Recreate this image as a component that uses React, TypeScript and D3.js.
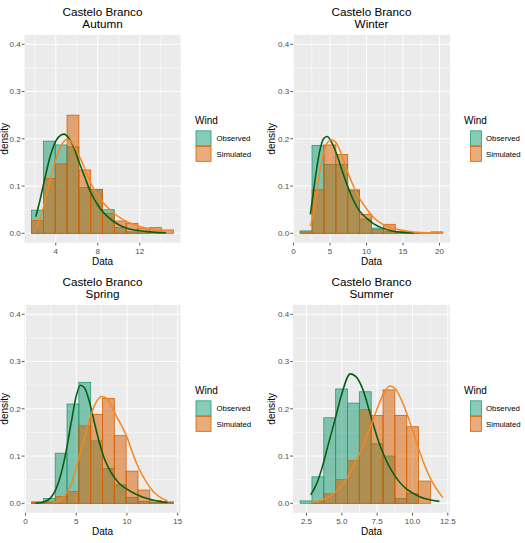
import React from 'react';
import * as d3 from 'd3';

// ---- data ----
const seasons = ['Autumn', 'Winter', 'Spring', 'Summer'];
const seriesNames = ['Observed', 'Simulated'];
const yTicks = [0, 0.1, 0.2, 0.3, 0.4];

const autumnEdges = [1.7, 2.825, 3.95, 5.075, 6.2, 7.325, 8.45, 9.575, 10.7, 11.825, 12.95, 14.075, 15.2];
const autumnObs = [0.049, 0.195, 0.187, 0.183, 0.097, 0.093, 0.05, 0.012, 0.003, 0.001, 0, 0];
const autumnSim = [0.027, 0.116, 0.147, 0.25, 0.134, 0.093, 0.042, 0.026, 0.021, 0.011, 0.012, 0.007];
const autumnObsCurve: [number, number][] = [
  [2.1, 0.035], [2.5, 0.07], [3.0, 0.12], [3.5, 0.165], [4.0, 0.195], [4.5, 0.208], [4.8, 0.21],
  [5.2, 0.203], [5.7, 0.183], [6.2, 0.152], [6.8, 0.117], [7.3, 0.088], [8.0, 0.06], [8.5, 0.045],
  [9.5, 0.025], [10.5, 0.013], [11.5, 0.007], [12.5, 0.004], [13.5, 0.002], [14.5, 0.001],
];
const autumnSimCurve: [number, number][] = [
  [2.1, 0.01], [2.5, 0.03], [3.0, 0.07], [3.5, 0.115], [4.0, 0.155], [4.5, 0.185], [5.1, 0.199],
  [5.6, 0.19], [6.2, 0.165], [6.8, 0.135], [7.3, 0.108], [8.0, 0.08], [8.5, 0.065], [9.5, 0.043],
  [10.5, 0.028], [11.5, 0.018], [12.5, 0.011], [13.5, 0.007], [14.4, 0.004],
];
const autumnTicks = [4, 8, 12];

const winterEdges = [0.9, 2.53, 4.16, 5.79, 7.42, 9.05, 10.68, 12.31, 13.94, 15.57, 17.2, 18.83, 20.46];
const winterObs = [0.005, 0.186, 0.146, 0.146, 0.09, 0.03, 0.011, 0.004, 0.002, 0.001, 0, 0];
const winterSim = [0.003, 0.092, 0.187, 0.167, 0.092, 0.04, 0.008, 0.019, 0.003, 0.002, 0.001, 0.003];
const winterObsCurve: [number, number][] = [
  [2.3, 0.04], [2.7, 0.085], [3.1, 0.13], [3.6, 0.175], [4.1, 0.2], [4.6, 0.205], [5.2, 0.193],
  [5.9, 0.168], [6.6, 0.135], [7.4, 0.1], [8.2, 0.07], [9.0, 0.048], [10.0, 0.032], [11.0, 0.02],
  [12.0, 0.012], [13.5, 0.005], [15.0, 0.002], [16.5, 0.001],
];
const winterSimCurve: [number, number][] = [
  [2.3, 0.015], [2.7, 0.04], [3.2, 0.09], [3.7, 0.14], [4.2, 0.175], [4.7, 0.193], [5.2, 0.198],
  [5.9, 0.19], [6.6, 0.165], [7.4, 0.13], [8.2, 0.1], [9.0, 0.075], [10.0, 0.052], [11.0, 0.033],
  [12.0, 0.021], [13.0, 0.014], [14.0, 0.009], [15.5, 0.005], [17.0, 0.002], [18.5, 0.001], [20.4, 0.0005],
];
const winterTicks = [0, 5, 10, 15, 20];

const springEdges = [0.6, 1.765, 2.93, 4.095, 5.26, 6.425, 7.59, 8.755, 9.92, 11.085, 12.25, 13.415, 14.58];
const springObs = [0.003, 0.01, 0.106, 0.21, 0.256, 0.132, 0.074, 0.039, 0.012, 0.004, 0.002, 0.002];
const springSim = [0.002, 0.003, 0.014, 0.025, 0.164, 0.188, 0.222, 0.143, 0.068, 0.028, 0.006, 0.003];
const springObsCurve: [number, number][] = [
  [1.0, 0.0], [1.8, 0.003], [2.5, 0.012], [3.0, 0.03], [3.5, 0.062], [4.0, 0.11], [4.5, 0.17],
  [5.0, 0.227], [5.4, 0.25], [5.8, 0.245], [6.3, 0.215], [6.8, 0.17], [7.3, 0.127], [7.8, 0.093],
  [8.5, 0.063], [9.2, 0.043], [10.0, 0.03], [11.0, 0.018], [12.0, 0.01], [13.0, 0.005], [14.0, 0.002],
];
const springSimCurve: [number, number][] = [
  [2.7, 0.001], [3.5, 0.008], [4.0, 0.02], [4.5, 0.04], [5.0, 0.075], [5.5, 0.115], [6.0, 0.155],
  [6.5, 0.19], [7.0, 0.215], [7.5, 0.226], [8.0, 0.222], [8.5, 0.205], [9.0, 0.183], [9.5, 0.163],
  [10.0, 0.14], [10.5, 0.11], [11.0, 0.082], [11.5, 0.06], [12.0, 0.042], [12.5, 0.027], [13.0, 0.017],
  [13.5, 0.01], [14.0, 0.005],
];
const springTicks = [0, 5, 10, 15];

const summerEdges = [2.05, 2.888, 3.726, 4.564, 5.402, 6.24, 7.078, 7.916, 8.754, 9.592, 10.43, 11.268];
const summerObs = [0.005, 0.056, 0.181, 0.242, 0.212, 0.236, 0.126, 0.1, 0.01, 0.021, 0];
const summerSim = [0, 0.004, 0.02, 0.05, 0.09, 0.198, 0.186, 0.24, 0.186, 0.162, 0.047];
const summerObsCurve: [number, number][] = [
  [2.8, 0.018], [3.2, 0.04], [3.6, 0.075], [4.0, 0.12], [4.5, 0.175], [5.0, 0.232], [5.6, 0.274],
  [6.0, 0.268], [6.5, 0.24], [7.0, 0.19], [7.5, 0.14], [8.0, 0.1], [8.5, 0.07], [9.0, 0.048],
  [9.5, 0.032], [10.0, 0.022], [10.5, 0.014], [11.0, 0.009], [11.9, 0.004],
];
const summerSimCurve: [number, number][] = [
  [2.8, 0.002], [3.5, 0.006], [4.0, 0.012], [4.5, 0.022], [5.0, 0.038], [5.5, 0.06], [6.0, 0.088],
  [6.5, 0.122], [7.0, 0.16], [7.5, 0.2], [8.0, 0.235], [8.4, 0.248], [8.8, 0.242], [9.2, 0.22],
  [9.6, 0.19], [10.0, 0.155], [10.5, 0.11], [11.0, 0.07], [11.5, 0.04], [12.15, 0.012],
];
const summerTicks = [2.5, 5, 7.5, 10, 12.5];

const panels = [
  { season: seasons[0], edges: autumnEdges, obs: autumnObs, sim: autumnSim, obsCurve: autumnObsCurve, simCurve: autumnSimCurve, ticks: autumnTicks, fmt: d3.format('d') },
  { season: seasons[1], edges: winterEdges, obs: winterObs, sim: winterSim, obsCurve: winterObsCurve, simCurve: winterSimCurve, ticks: winterTicks, fmt: d3.format('d') },
  { season: seasons[2], edges: springEdges, obs: springObs, sim: springSim, obsCurve: springObsCurve, simCurve: springSimCurve, ticks: springTicks, fmt: d3.format('d') },
  { season: seasons[3], edges: summerEdges, obs: summerObs, sim: summerSim, obsCurve: summerObsCurve, simCurve: summerSimCurve, ticks: summerTicks, fmt: d3.format('.1f') },
];

// ---- layout ----
const W = 525, H = 543;
const cols = [
  { left: 24.5, right: 180.5, legX: 196, keyW: 15, keyX: 196, labX: 216.5, yLabX: 4.8 },
  { left: 293, right: 450, legX: 465, keyW: 11, keyX: 470.5, labX: 486, yLabX: 271.7 },
];
const rows = [{ top: 34.85, bottom: 242.75 }, { top: 304.85, bottom: 512.75 }];

const FONT = "'Liberation Sans', Arial, Helvetica, sans-serif";
const OBS_FILL = 'rgba(27,158,119,0.52)';
const SIM_FILL = 'rgba(217,95,2,0.52)';
const OBS_STROKE = '#1B9E77';
const SIM_STROKE = '#D95F02';
const OBS_LINE = '#0B5E14';
const SIM_LINE = '#F5871F';

function Panel({ p, col, row }: { p: typeof panels[0]; col: typeof cols[0]; row: typeof rows[0] }) {
  const allX = [...p.edges, ...p.obsCurve.map(d => d[0]), ...p.simCurve.map(d => d[0])];
  const [lo, hi] = d3.extent(allX) as [number, number];
  const pad = (hi - lo) * 0.05;
  const x = d3.scaleLinear().domain([lo - pad, hi + pad]).range([col.left, col.right]);
  const y = d3.scaleLinear().domain([-0.02, 0.42]).range([row.bottom, row.top]);

  const step = p.ticks[1] - p.ticks[0];
  const minorX = [p.ticks[0] - step / 2, ...p.ticks.map(t => t + step / 2)];
  const minorY = yTicks.slice(0, -1).map((t, i) => (t + yTicks[i + 1]) / 2);
  const [dx0, dx1] = x.domain();

  const line = d3.line<[number, number]>().x(d => x(d[0])).y(d => y(d[1])).curve(d3.curveMonotoneX);
  const bins = (vals: number[]) => vals.map((v, i) => ({ x0: p.edges[i], x1: p.edges[i + 1], v }));
  const cx = (col.left + col.right) / 2;
  const cy = (row.top + row.bottom) / 2;

  return (
    <g>
      <rect x={col.left} y={row.top} width={col.right - col.left} height={row.bottom - row.top} fill="#EBEBEB" />
      {minorX.filter(v => v > dx0 && v < dx1).map(v => (
        <line key={'mx' + v} x1={x(v)} x2={x(v)} y1={row.top} y2={row.bottom} stroke="#fff" strokeWidth={0.5} />
      ))}
      {minorY.map(v => (
        <line key={'my' + v} x1={col.left} x2={col.right} y1={y(v)} y2={y(v)} stroke="#fff" strokeWidth={0.5} />
      ))}
      {p.ticks.map(v => (
        <line key={'gx' + v} x1={x(v)} x2={x(v)} y1={row.top} y2={row.bottom} stroke="#fff" strokeWidth={1} />
      ))}
      {yTicks.map(v => (
        <line key={'gy' + v} x1={col.left} x2={col.right} y1={y(v)} y2={y(v)} stroke="#fff" strokeWidth={1} />
      ))}

      {bins(p.obs).map((b, i) => (
        <rect key={'o' + i} x={x(b.x0)} y={y(b.v)} width={x(b.x1) - x(b.x0)} height={y(0) - y(b.v)}
          fill={OBS_FILL} stroke={OBS_STROKE} strokeWidth={0.8} />
      ))}
      {bins(p.sim).map((b, i) => (
        <rect key={'s' + i} x={x(b.x0)} y={y(b.v)} width={x(b.x1) - x(b.x0)} height={y(0) - y(b.v)}
          fill={SIM_FILL} stroke={SIM_STROKE} strokeWidth={0.8} />
      ))}
      <path d={line(p.obsCurve) ?? ''} fill="none" stroke={OBS_LINE} strokeWidth={1.6} />
      <path d={line(p.simCurve) ?? ''} fill="none" stroke={SIM_LINE} strokeWidth={1.5} />

      {yTicks.map(v => (
        <g key={'ty' + v}>
          <line x1={col.left - 2.8} x2={col.left} y1={y(v)} y2={y(v)} stroke="#333" strokeWidth={0.8} />
          <text x={col.left - 3.8} y={y(v)} dy="0.35em" textAnchor="end" fontSize={8} fill="#4D4D4D">{d3.format('.1f')(v)}</text>
        </g>
      ))}
      {p.ticks.map(v => (
        <g key={'tx' + v}>
          <line x1={x(v)} x2={x(v)} y1={row.bottom} y2={row.bottom + 2.8} stroke="#333" strokeWidth={0.8} />
          <text x={x(v)} y={row.bottom + 11} textAnchor="middle" fontSize={8} fill="#4D4D4D">{p.fmt(v)}</text>
        </g>
      ))}

      <text x={cx} y={row.bottom + 22.5} textAnchor="middle" fontSize={10} fill="#000">Data</text>
      <text transform={`translate(${col.yLabX},${cy}) rotate(-90)`} textAnchor="middle" dy="0.35em" fontSize={10} fill="#000">density</text>
      <text x={cx} y={row.top - 19.3} textAnchor="middle" fontSize={11.7} fill="#000">Castelo Branco</text>
      <text x={cx} y={row.top - 7.3} textAnchor="middle" fontSize={11.7} fill="#000">{p.season}</text>

      <text x={col.legX - 1} y={row.top + 89} fontSize={10} fill="#000">Wind</text>
      {seriesNames.map((name, i) => (
        <g key={name}>
          <rect x={col.keyX} y={row.top + 96 + i * 15.5} width={col.keyW} height={15}
            fill={i === 0 ? OBS_FILL : SIM_FILL} stroke={i === 0 ? OBS_STROKE : SIM_STROKE} strokeWidth={0.8} />
          <text x={col.labX} y={row.top + 103.5 + i * 15.5} dy="0.35em" fontSize={7.8} fill="#000">{name}</text>
        </g>
      ))}
    </g>
  );
}

export default function App() {
  return (
    <div style={{ position: 'absolute', left: 0, top: 0 }}>
      <svg width={W} height={H} style={{ display: 'block', fontFamily: FONT, background: '#fff' }}>
        {panels.map((p, i) => (
          <Panel key={p.season} p={p} col={cols[i % 2]} row={rows[Math.floor(i / 2)]} />
        ))}
      </svg>
    </div>
  );
}
